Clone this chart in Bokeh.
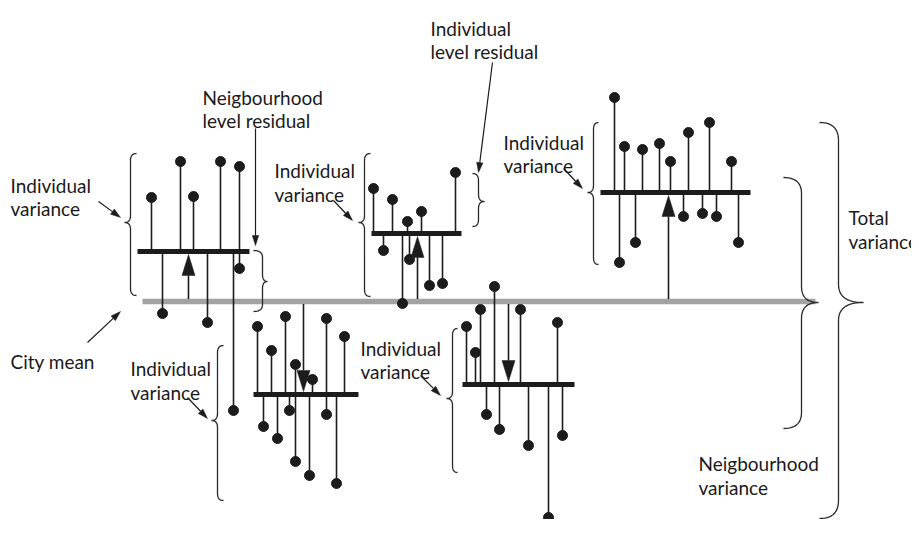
import numpy as np
from bokeh.plotting import figure
from bokeh.models import Range1d, ColumnDataSource
from bokeh.core.properties import value
from bokeh.embed import file_html
from bokeh.resources import INLINE

# ---------------- data (x in px across, y = level relative to city mean) -------------
CITY_MEAN = 0
city_x = [142, 815]

# neighbourhoods: mean level, bar extent, arrow x, individuals (x, level)
n1_mean = 50;  n1_bar = [137, 249]; n1_arrow_x = 188
n1_x = [151, 180, 193, 220, 239, 162, 207, 239, 233]
n1_y = [104, 140, 105, 140, 135, -12, -21, 33, -109]

n3_mean = 68;  n3_bar = [371, 461]; n3_arrow_x = 417
n3_x = [373, 392, 407, 421, 455, 383, 402, 409, 429, 442]
n3_y = [113, 102, 80, 90, 129, 51, -2, 42, 16, 18]

n4_mean = 109; n4_bar = [600, 750]; n4_arrow_x = 668
n4_x = [614, 624, 642, 659, 670, 688, 709, 731, 619, 635, 683, 702, 716, 738]
n4_y = [204, 155, 152, 158, 140, 169, 179, 140, 39, 59, 85, 88, 85, 59]

n2_mean = -93; n2_bar = [253, 358]; n2_arrow_x = 303
n2_x = [257, 271, 285, 295, 312, 326, 344, 263, 277, 289, 295, 309, 326, 336]
n2_y = [-25, -49, -15, -63, -78, -17, -35, -125, -137, -109, -160, -174, -113, -182]

n5_mean = -83; n5_bar = [462, 574]; n5_arrow_x = 508
n5_x = [466, 475, 480, 494, 520, 557, 486, 499, 528, 548, 562]
n5_y = [-25, -51, -8, 15, -8, -21, -113, -128, -144, -216, -134]

neighbourhoods = [
    (n1_mean, n1_bar, n1_arrow_x, n1_x, n1_y),
    (n3_mean, n3_bar, n3_arrow_x, n3_x, n3_y),
    (n4_mean, n4_bar, n4_arrow_x, n4_x, n4_y),
    (n2_mean, n2_bar, n2_arrow_x, n2_x, n2_y),
    (n5_mean, n5_bar, n5_arrow_x, n5_x, n5_y),
]

# braces: (arm x, spine x, tip x, top level, bottom level, tip level, curl)
braces = [
    (136, 130, 124, 148, 6, 79, 7),     # N1 individual variance
    (253, 262, 267, 51, -10, 20, 7),    # N1 neighbourhood residual
    (370, 364, 358, 148, 5, 79, 7),     # N3 individual variance
    (472, 478, 484, 128, 75, 100, 7),   # individual residual
    (598, 593, 587, 179, 37, 109, 7),   # N4 individual variance
    (223, 217, 211, -44, -199, -119, 7),  # N2 individual variance
    (457, 452, 446, -27, -171, -97, 7),   # N5 individual variance
    (783, 801, 818, 124, -127, -1, 16),   # neighbourhood variance
    (819, 838, 863, 179, -217, -1, 18),   # total variance
]

# labels: (text, x, baseline level)
labels = [
    ("Individual", 10, 116), ("variance", 10, 93),
    ("Individual", 274, 131), ("variance", 274, 107),
    ("Individual", 503, 159), ("variance", 503, 136),
    ("Individual", 130, -67), ("variance", 130, -91),
    ("Individual", 360, -47), ("variance", 360, -70),
    ("City mean", 10, -60),
    ("Neigbourhood", 202, 204), ("level residual", 202, 181),
    ("Individual", 430, 273), ("level residual", 430, 250),
    ("Total", 848, 84), ("variance", 848, 60),
    ("Neigbourhood", 698, -162), ("variance", 698, -186),
]

# pointer arrows: (x start, level start, x end, level end)
pointers = [
    (98, 100, 120, 84),
    (255, 173, 255, 56),
    (87, -41, 120, -10),
    (333, 101, 352, 81),
    (492, 239, 478, 129),
    (563, 133, 582, 113),
    (187, -96, 207, -117),
    (420, -74, 440, -94),
]

INK = "#1c1c1c"

p = figure(width=911, height=519, x_range=Range1d(0, 911), y_range=Range1d(-218, 301),
           output_backend="svg", toolbar_location=None, min_border=0,
           x_axis_type=None, y_axis_type=None)
p.grid.visible = False
p.outline_line_color = None
p.background_fill_color = "white"

# city mean line
p.line(x=city_x, y=[CITY_MEAN, CITY_MEAN], line_color="#a3a3a3", line_width=5.5)

for mean, bar, ax, xs, ys in neighbourhoods:
    src = ColumnDataSource(dict(x=xs, y=ys, m=[mean] * len(xs)))
    p.segment(x0="x", y0="m", x1="x", y1="y", source=src, line_color=INK, line_width=1.6)
    p.scatter(x="x", y="y", source=src, size=10, fill_color=INK, line_color=INK)
    p.segment(x0=[bar[0]], y0=[mean], x1=[bar[1]], y1=[mean], line_color=INK,
              line_width=5, line_cap="butt")
    d = 1 if mean > CITY_MEAN else -1
    tip = mean - d * 3
    base = tip - d * 21
    p.segment(x0=[ax], y0=[CITY_MEAN + d * 2.5], x1=[ax], y1=[base], line_color=INK, line_width=1.6)
    p.patch(x=[ax - 6.5, ax + 6.5, ax], y=[base, base, tip], fill_color=INK, line_color=INK,
            line_width=0.5)


def quad(a, c, b, n=14):
    t = np.linspace(0, 1, n)
    x = (1 - t) ** 2 * a[0] + 2 * (1 - t) * t * c[0] + t ** 2 * b[0]
    y = (1 - t) ** 2 * a[1] + 2 * (1 - t) * t * c[1] + t ** 2 * b[1]
    return list(x), list(y)


bx, by = [], []
for xe, xm, xt, top, bot, ty, r in braces:
    xs, ys = [], []
    for a, c, b in [((xe, top), (xm, top), (xm, top - r)),
                    ((xm, ty + r), (xm, ty), (xt, ty)),
                    ((xt, ty), (xm, ty), (xm, ty - r)),
                    ((xm, bot + r), (xm, bot), (xe, bot))]:
        qx, qy = quad(a, c, b)
        xs += qx
        ys += qy
    bx.append(xs)
    by.append(ys)
p.multi_line(xs=bx, ys=by, line_color="#2a2a2a", line_width=1.3)

# pointer arrows
for x0, y0, x1, y1 in pointers:
    dx, dy = x1 - x0, y1 - y0
    L = np.hypot(dx, dy)
    ux, uy = dx / L, dy / L
    hl, hw = 10, 3.2
    bxp, byp = x1 - ux * hl, y1 - uy * hl
    p.line(x=[x0, bxp], y=[y0, byp], line_color=INK, line_width=1.2)
    p.patch(x=[x1, bxp - uy * hw, bxp + uy * hw], y=[y1, byp + ux * hw, byp - ux * hw],
            fill_color=INK, line_color=INK, line_width=0.5)

tsrc = ColumnDataSource(dict(t=[l[0] for l in labels], x=[l[1] for l in labels],
                             y=[l[2] for l in labels]))
p.text(x="x", y="y", text="t", source=tsrc, text_font=value("Lato"), text_font_size="19px",
       text_baseline="alphabetic", text_align="left", text_color="#1a1a1a")

open("out.html", "w").write(file_html(p, INLINE))
